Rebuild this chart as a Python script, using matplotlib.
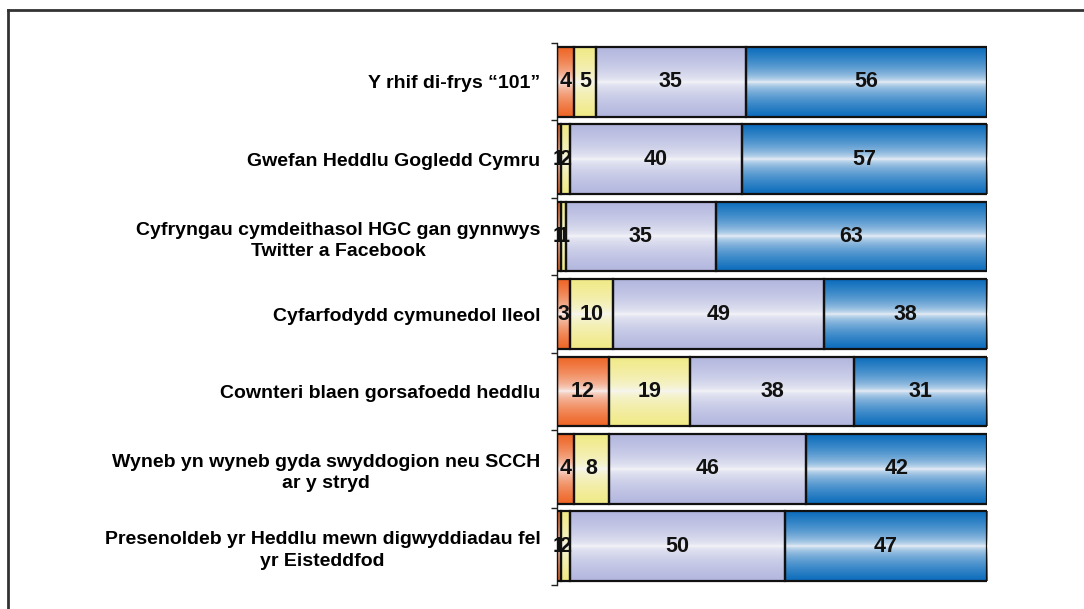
import numpy as np
import matplotlib
matplotlib.use("Agg")
import matplotlib.pyplot as plt
from matplotlib.colors import to_rgb
from matplotlib.lines import Line2D

plt.rcParams['font.family'] = ['Liberation Sans', 'DejaVu Sans']

categories = [
    "Y rhif di-frys \u201c101\u201d",
    "Gwefan Heddlu Gogledd Cymru",
    "Cyfryngau cymdeithasol HGC gan gynnwys\nTwitter a Facebook",
    "Cyfarfodydd cymunedol lleol",
    "Cownteri blaen gorsafoedd heddlu",
    "Wyneb yn wyneb gyda swyddogion neu SCCH\nar y stryd",
    "Presenoldeb yr Heddlu mewn digwyddiadau fel\nyr Eisteddfod",
]
orange_vals = [4, 1, 1, 3, 12, 4, 1]
yellow_vals = [5, 2, 1, 10, 19, 8, 2]
lavender_vals = [35, 40, 35, 49, 38, 46, 50]
blue_vals = [56, 57, 63, 38, 31, 42, 47]

series = [orange_vals, yellow_vals, lavender_vals, blue_vals]
edge_colors = ["#ef6424", "#f1ea86", "#b2b6de", "#0a6cbc"]

fig = plt.figure(figsize=(10.84, 6.09), dpi=100)
ax = fig.add_axes([0.5138, 0.0394, 0.3967, 0.8900])

# vertical gradient: colour at top/bottom, near white in the middle
n = 200
t = np.abs(np.linspace(-1, 1, n)) ** 0.5

ypos = np.arange(len(categories))
h = 0.9
left = np.zeros(len(categories))
for vals, col in zip(series, edge_colors):
    c = np.array(to_rgb(col))
    w = np.array([0.97, 0.97, 0.98])
    grad = w[None, :] + (c - w)[None, :] * t[:, None]
    grad = grad[:, None, :]
    bars = ax.barh(ypos, vals, left=left, height=h, facecolor="none",
                   edgecolor="#111111", linewidth=1.6, zorder=3)
    for b in bars:
        x0, y0 = b.get_x(), b.get_y()
        im = ax.imshow(grad, extent=[x0, x0 + b.get_width(), y0, y0 + b.get_height()],
                       aspect="auto", origin="lower", zorder=2, interpolation="bilinear")
        im.set_clip_path(b)
    for yi, v, l in zip(ypos, vals, left):
        ax.text(l + v / 2, yi, str(v), ha="center", va="center",
                fontsize=15.5, fontweight="bold", color="#111111", zorder=4)
    left = left + np.array(vals)

ax.set_xlim(0, 100)
ax.set_ylim(len(categories) - 0.5, -0.5)
ax.set_yticks(ypos)
ax.set_yticklabels(categories, fontsize=14, fontweight="bold", multialignment="center",
                   linespacing=1.35)
ax.tick_params(axis="y", which="major", length=0, pad=12)
ax.set_yticks(np.arange(-0.5, len(categories)), minor=True)
ax.tick_params(axis="y", which="minor", length=4, width=1, color="#222222")
ax.set_xticks([])
for s in ["top", "right", "bottom"]:
    ax.spines[s].set_visible(False)
ax.spines["left"].set_color("#222222")
ax.spines["left"].set_linewidth(1)

# partial frame around the picture
fig.add_artist(Line2D([0.0075, 1.0], [0.983, 0.983], transform=fig.transFigure,
                      color="#333333", linewidth=2))
fig.add_artist(Line2D([0.0075, 0.0075], [0.0, 0.983], transform=fig.transFigure,
                      color="#333333", linewidth=2))

fig.savefig("out.png", dpi=100)
